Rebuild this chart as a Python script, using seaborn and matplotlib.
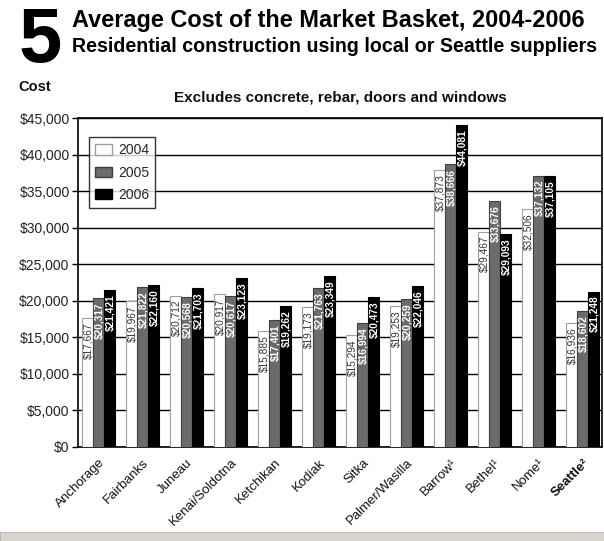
import matplotlib
matplotlib.use("Agg")
import matplotlib.pyplot as plt
import matplotlib.patches as mpatches
import seaborn as sns
import pandas as pd

cities = ["Anchorage", "Fairbanks", "Juneau", "Kenai/Soldotna", "Ketchikan", "Kodiak",
          "Sitka", "Palmer/Wasilla", "Barrow¹", "Bethel¹", "Nome¹", "Seattle²"]
years = ["2004", "2005", "2006"]
cost_2004 = [17667, 19967, 20712, 20917, 15885, 19173, 15294, 19253, 37873, 29467, 32506, 16936]
cost_2005 = [20317, 21822, 20568, 20617, 17401, 21763, 16994, 20259, 38666, 33676, 37132, 18602]
cost_2006 = [21421, 22160, 21703, 23123, 19262, 23349, 20473, 22046, 44081, 29093, 37105, 21248]
y_ticks = list(range(0, 45001, 5000))

rows = []
for yr, vals in zip(years, [cost_2004, cost_2005, cost_2006]):
    for c, v in zip(cities, vals):
        rows.append({"City": c, "Year": yr, "Cost": v})
df = pd.DataFrame(rows)

sns.set_theme(style="white")
plt.rcParams["font.family"] = ["Liberation Sans", "DejaVu Sans"]

fig = plt.figure(figsize=(6.04, 5.41), dpi=100)
ax = fig.add_axes([0.129, 0.1738, 0.868, 0.608])

fills = {"2004": "#ffffff", "2005": "#6b6b6b", "2006": "#000000"}
edges = ["#a0a0a0", "#404040", "#000000"]
txtcol = ["#333333", "#ffffff", "#ffffff"]
weights = ["normal", "bold", "bold"]

sns.barplot(data=df, x="City", y="Cost", hue="Year", palette=fills, width=0.75,
            saturation=1, ax=ax, zorder=3, legend=True)

for cont, ec, tc, fw, vals in zip(ax.containers, edges, txtcol, weights,
                                   [cost_2004, cost_2005, cost_2006]):
    for bar, v in zip(cont, vals):
        bar.set_edgecolor(ec)
        bar.set_linewidth(0.8)
        ax.annotate(f"${v:,}", (bar.get_x() + bar.get_width() / 2, bar.get_height()),
                    xytext=(0.5, -3), textcoords="offset points", rotation=90,
                    ha="center", va="top", fontsize=7.3, color=tc, fontweight=fw,
                    zorder=5)

ax.set_ylim(0, 45000)
ax.set_xlim(-0.466, 11.44)
ax.set_yticks(y_ticks)
ax.set_yticklabels([f"${t:,}" for t in y_ticks], fontsize=10, color="#222222")
ax.yaxis.grid(True, color="black", linewidth=1.0, zorder=0)
ax.set_axisbelow(True)
ax.tick_params(axis="y", left=True, length=4, width=1, color="black", pad=2)
ax.tick_params(axis="x", bottom=False, pad=1)
for s in ax.spines.values():
    s.set_color("black")
    s.set_linewidth(1.2)
ax.set_xlabel("")
ax.set_ylabel("")

labels = ax.set_xticklabels(cities, rotation=45, ha="right", rotation_mode="anchor",
                            fontsize=9.5, color="#111111")
labels[-1].set_fontweight("bold")

handles, lbls = ax.get_legend_handles_labels()
for h, ec in zip(handles, edges):
    h.set_edgecolor(ec)
leg = ax.legend(handles, lbls, loc="upper left", bbox_to_anchor=(0.021, 0.942),
                borderaxespad=0, frameon=True, fancybox=False, fontsize=10,
                handlelength=1.2, handleheight=0.75, labelspacing=0.6, borderpad=0.45,
                handletextpad=0.45)
leg.get_frame().set_edgecolor("black")
leg.get_frame().set_linewidth(1.0)
leg.set_zorder(10)

fig.text(0.030, 0.886, "5", fontsize=56, fontweight="heavy", color="black",
         family=["Liberation Sans Narrow", "Liberation Sans", "DejaVu Sans"])
fig.text(0.119, 0.950, "Average Cost of the Market Basket, 2004-2006", fontsize=16.9,
         fontweight="bold", color="black", va="baseline",
         family=["Liberation Sans Narrow", "Liberation Sans", "DejaVu Sans"])
fig.text(0.119, 0.904, "Residential construction using local or Seattle suppliers",
         fontsize=14.1, fontweight="bold", color="black", va="baseline",
         family=["Liberation Sans Narrow", "Liberation Sans", "DejaVu Sans"])
fig.text(0.030, 0.832, "Cost", fontsize=10.5, fontweight="bold", color="#111111",
         va="baseline")
fig.text(0.563, 0.812, "Excludes concrete, rebar, doors and windows", fontsize=11,
         fontweight="bold", color="#111111", ha="center", va="baseline")

fig.patches.append(mpatches.Rectangle((0, 0), 1, 0.016, transform=fig.transFigure,
                                      facecolor="#d8d5cc", edgecolor="#b0aca0",
                                      linewidth=0.6, zorder=0))

fig.savefig("out.png", dpi=100)
